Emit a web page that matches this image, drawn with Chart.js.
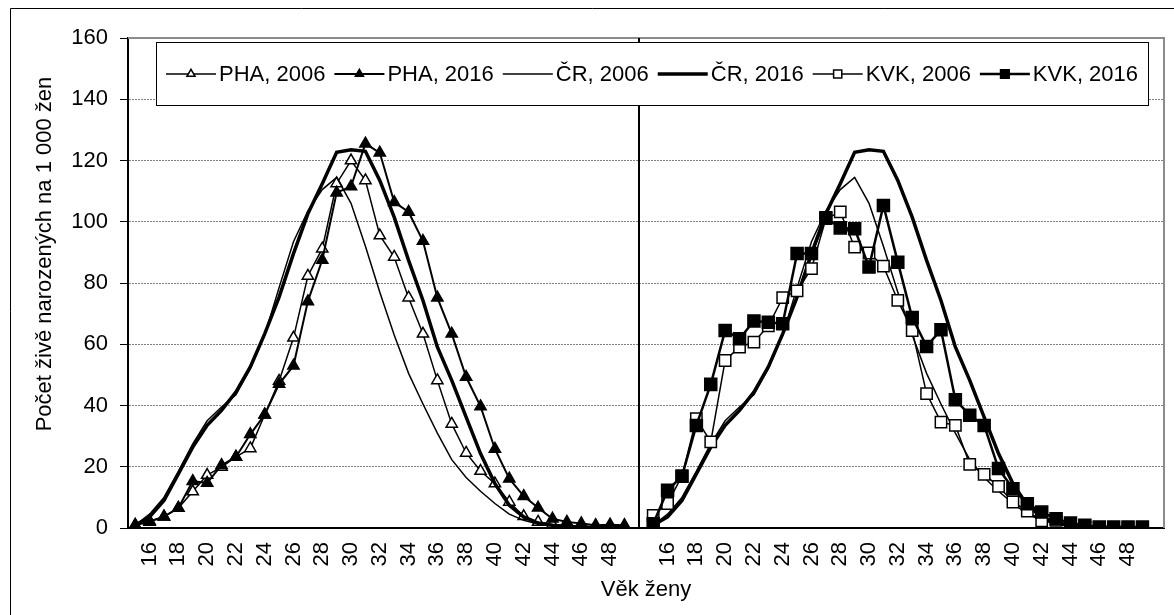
<!DOCTYPE html>
<html><head><meta charset="utf-8">
<script src="https://cdn.jsdelivr.net/npm/chart.js@4.4.0/dist/chart.umd.min.js"></script>
<style>html,body{margin:0;padding:0;background:#fff;}#wrap{width:1174px;height:615px;position:relative;}</style>
</head><body><div id="wrap"><canvas id="c" width="1174" height="615"></canvas></div>
<script>
// ---- data ----
const ageLabels = ['15','16','17','18','19','20','21','22','23','24','25','26','27','28','29','30','31','32','33','34','35','36','37','38','39','40','41','42','43','44','45','46','47','48','49'];
const yTicks = [0, 20, 40, 60, 80, 100, 120, 140, 160];
const seriesNames = ['PHA, 2006', 'PHA, 2016', 'ČR, 2006', 'ČR, 2016', 'KVK, 2006', 'KVK, 2016'];
const pha2006 = [0.9,2.3,3.7,6.5,11.9,17.3,19.9,23.2,26,37,48,62.1,82.3,91.2,112.5,120,113.5,95.5,88.5,75.2,63.4,48.2,34,24.5,18.6,14.5,8.5,3.8,2,1.2,0.5,0.3,0.2,0.1,0.1];
const pha2016 = [1,2,3.7,6.5,15.3,14.7,20.5,23.2,30.6,37,47,53,74,87.5,109.5,111.5,125.5,122.5,106.4,103.2,93.7,75.2,63.4,49.3,39.7,25.8,16.1,10.4,6.6,3,2,1.5,0.9,1.1,0.9];
const cr2006 = [0.9,4.5,10,18.5,27.5,35,39.5,43.5,52,63,78.5,93.5,103.5,110.5,114.5,106,92,77,63,50.5,40.5,31,22.3,16.5,12,8,4.5,2.5,1.3,0.7,0.4,0.2,0.1,0.1,0];
const cr2016 = [0.9,3.6,9,17.7,26.4,33.5,38.4,44.4,52.6,63.4,75.4,89.6,102.6,112.4,122.7,123.5,123,113.5,101.5,87.4,74.3,59.1,48.2,36.2,24.3,14.5,7.4,3.6,1.6,0.9,0.5,0.3,0.2,0.1,0.1];
const kvk2006 = [4.1,8,17,35.7,28.1,54.7,59.1,60.7,66,75.2,77.4,84.7,101,103.2,91.7,89.8,85.5,74.3,64.5,43.9,34.6,33.5,20.8,17.5,13.6,8.5,5.5,2.3,2.5,0.5,0.3,0.2,0.2,0.2,0.2];
const kvk2016 = [1.4,12.3,16.9,33.5,46.9,64.5,61.8,67.6,67.2,66.7,89.6,89.6,101.3,98,97.7,85.2,105.3,86.8,68.7,59.3,64.7,41.9,36.8,33.5,19.4,12.8,7.9,5.2,3,1.6,0.9,0.3,0.3,0.3,0.3];

// ---- category axis: left panel ages, gap, right panel ages, gap ----
const labels = [...ageLabels, '', ...ageLabels, ''];
const blanks = n => Array(n).fill(null);
const leftPanel = a => [...a, ...blanks(labels.length - a.length)];
const rightPanel = a => [...blanks(ageLabels.length + 1), ...a, null];
const bothPanels = a => [...a, null, ...a, null];
const dividerIndex = ageLabels.length;

Chart.defaults.font.family = "'Liberation Sans', Arial, sans-serif";
Chart.defaults.font.size = 22;
Chart.defaults.color = '#000';

const FONT = "22px 'Liberation Sans', Arial, sans-serif";

const decor = {
  id: 'decor',
  beforeDraw(chart) {
    const ctx = chart.ctx;
    ctx.save();
    ctx.fillStyle = '#fff';
    ctx.fillRect(0, 0, chart.width, chart.height);
    ctx.strokeStyle = '#000';
    ctx.lineWidth = 1;
    ctx.beginPath();
    ctx.moveTo(10.5, chart.height);
    ctx.lineTo(10.5, 8.5);
    ctx.lineTo(chart.width, 8.5);
    ctx.stroke();
    ctx.restore();
  },
  beforeDatasetsDraw(chart) {
    const {ctx, chartArea: ca, scales: {x, y}} = chart;
    ctx.save();
    ctx.strokeStyle = '#8c8c8c';
    ctx.lineWidth = 2;
    ctx.beginPath();
    ctx.moveTo(ca.left, ca.top);
    ctx.lineTo(ca.right, ca.top);
    ctx.lineTo(ca.right, ca.bottom);
    ctx.stroke();
    const dx = Math.round(x.getPixelForValue(dividerIndex));
    ctx.strokeStyle = '#000';
    ctx.lineWidth = 2;
    ctx.beginPath();
    ctx.moveTo(dx, y.getPixelForValue(0));
    ctx.lineTo(dx, y.getPixelForValue(160));
    ctx.stroke();
    ctx.restore();
  },
  afterDraw(chart) {
    const ctx = chart.ctx;
    ctx.save();
    ctx.font = FONT;
    ctx.fillStyle = '#000';
    ctx.textAlign = 'center';
    ctx.textBaseline = 'middle';
    ctx.translate(45, 254);
    ctx.rotate(-Math.PI / 2);
    ctx.fillText('Počet živě narozených na 1 000 žen', 0, 0);
    ctx.restore();

    // legend box
    ctx.save();
    const bx = 156, by = 42, bw = 992, bh = 63;
    ctx.fillStyle = '#fff';
    ctx.fillRect(bx, by, bw, bh);
    ctx.strokeStyle = '#000';
    ctx.lineWidth = 1;
    ctx.strokeRect(bx + 0.5, by + 0.5, bw, bh);
    ctx.font = FONT;
    ctx.textBaseline = 'middle';
    ctx.textAlign = 'left';
    const cy = 74;
    let px = 166;
    chart.data.datasets.forEach(ds => {
      ctx.strokeStyle = '#000';
      ctx.lineWidth = ds.borderWidth;
      ctx.beginPath();
      ctx.moveTo(px, cy);
      ctx.lineTo(px + 50, cy);
      ctx.stroke();
      if (ds.pointRadius > 0) {
        ctx.fillStyle = ds.pointBackgroundColor;
        ctx.strokeStyle = '#000';
        ctx.lineWidth = ds.pointBorderWidth;
        Chart.helpers.drawPoint(ctx, {
          pointStyle: ds.pointStyle,
          radius: ds.pointRadius * 0.72,
          borderWidth: ds.pointBorderWidth,
          rotation: 0
        }, px + 25, cy);
      }
      ctx.fillStyle = '#000';
      ctx.fillText(ds.label, px + 53, cy + 1);
      px += 53 + ctx.measureText(ds.label).width + 9;
    });
    ctx.restore();
  }
};

const mk = (i, data, opts) => Object.assign({
  label: seriesNames[i],
  data: data,
  borderColor: '#000',
  pointBorderColor: '#000',
  tension: 0,
  fill: false,
  spanGaps: false,
  order: 10 - i
}, opts);

const datasets = [
  mk(0, leftPanel(pha2006), {borderWidth: 1.5, pointStyle: 'triangle', pointRadius: 6.5, pointBackgroundColor: '#fff', pointBorderWidth: 1.5}),
  mk(1, leftPanel(pha2016), {borderWidth: 2, pointStyle: 'triangle', pointRadius: 6.5, pointBackgroundColor: '#000', pointBorderWidth: 1.5}),
  mk(2, bothPanels(cr2006), {borderWidth: 1.5, pointRadius: 0, pointStyle: 'circle', pointBackgroundColor: '#000', pointBorderWidth: 0}),
  mk(3, bothPanels(cr2016), {borderWidth: 3.5, pointRadius: 0, pointStyle: 'circle', pointBackgroundColor: '#000', pointBorderWidth: 0}),
  mk(4, rightPanel(kvk2006), {borderWidth: 1.5, pointStyle: 'rect', pointRadius: 8, pointBackgroundColor: '#fff', pointBorderWidth: 1.5}),
  mk(5, rightPanel(kvk2016), {borderWidth: 2.5, pointStyle: 'rect', pointRadius: 8.5, pointBackgroundColor: '#000', pointBorderWidth: 1.5})
];

new Chart(document.getElementById('c'), {
  type: 'line',
  data: {labels, datasets},
  options: {
    responsive: false,
    animation: false,
    events: [],
    devicePixelRatio: 1,
    layout: {padding: {left: 10, right: 1, top: 38, bottom: 0}},
    plugins: {legend: {display: false}, tooltip: {enabled: false}, title: {display: false}},
    scales: {
      x: {
        type: 'category',
        offset: true,
        grid: {display: false, drawTicks: false},
        border: {display: true, color: '#000', width: 2},
        ticks: {
          autoSkip: false,
          maxRotation: 90,
          minRotation: 90,
          padding: 14,
          font: {size: 22},
          callback(value) {
            const l = this.getLabelForValue(value);
            return (l !== '' && Number(l) % 2 === 0) ? l : '';
          }
        },
        title: {display: true, text: 'Věk ženy', font: {size: 22}, padding: {top: 0, bottom: 12}},
        afterFit(scale) { scale.height = 87; scale.paddingLeft = 0; scale.paddingRight = 0; }
      },
      y: {
        min: yTicks[0],
        max: yTicks[yTicks.length - 1],
        afterBuildTicks(scale) { scale.ticks = yTicks.map(v => ({value: v})); },
        grid: {color: '#808080', lineWidth: 1, tickLength: 8, tickColor: '#000', tickWidth: 1},
        border: {display: true, color: '#000', width: 2, dash: [2, 1]},
        ticks: {padding: 12, font: {size: 22}},
        afterFit(scale) { scale.width = 118; scale.paddingTop = 0; scale.paddingBottom = 0; }
      }
    }
  },
  plugins: [decor]
});
</script>
</body></html>
